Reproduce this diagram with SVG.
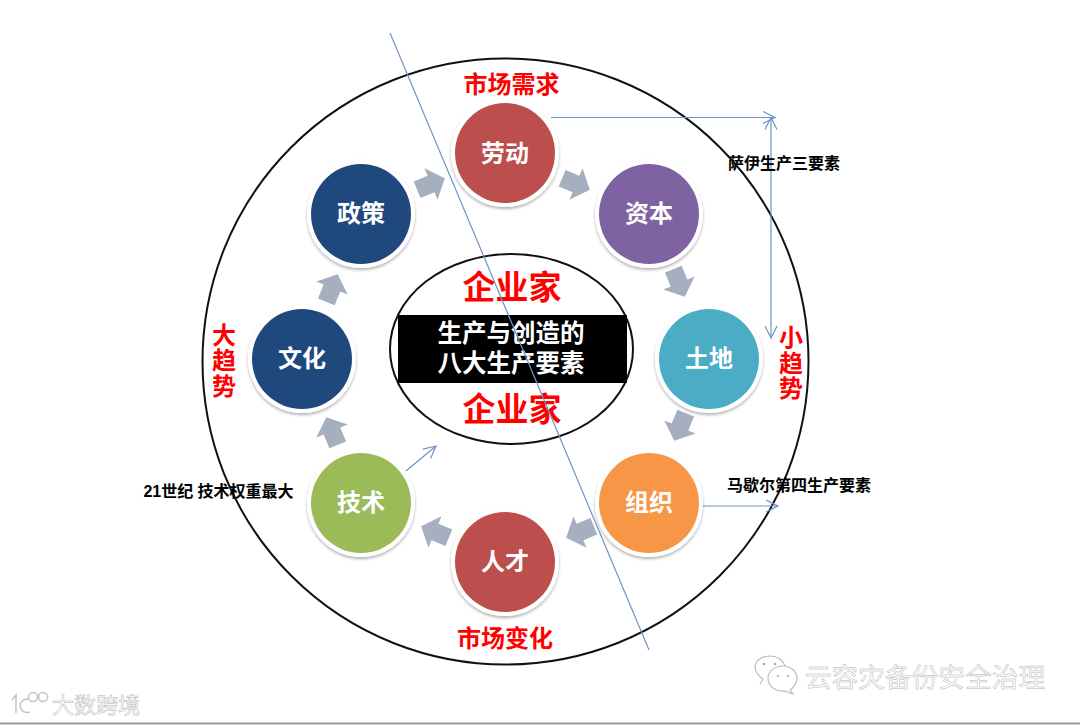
<svg xmlns="http://www.w3.org/2000/svg" width="1080" height="725" viewBox="0 0 1080 725">
<style>
text{font-family:"Liberation Sans","Noto Sans CJK SC",sans-serif;text-anchor:middle}
.ring{fill:#fff;filter:url(#sh)}
.nl{fill:#fff;font-size:24px;font-weight:700}
.red{fill:#f00;font-weight:700}
.rl{font-size:24px}
.big{font-size:33px}
.note{fill:#000;font-size:16px;font-weight:700}
.blue{fill:none;stroke:#6f94c4;stroke-width:1.2}
.ar{fill:#a6afc0}
.wm{fill:#fff;stroke:#b4b4b4;stroke-width:.5}
.ic{fill:#fff;stroke:#bbb;stroke-width:1.2}
.dot{fill:#aaa}
</style>
<defs>
<filter id="sh" x="-20%" y="-20%" width="140%" height="140%"><feDropShadow dx="0" dy="2" stdDeviation="1.5" flood-color="#000" flood-opacity=".3"/></filter>
<marker id="op" viewBox="0 0 14 14" refX="13" refY="7" markerWidth="14" markerHeight="14" markerUnits="userSpaceOnUse" orient="auto-start-reverse"><path d="M1 1L13 7L1 13" fill="none" stroke="#6f94c4" stroke-width="1.2"/></marker>
<path id="arr" d="M-15-9H0V-17L15 0L0 17V9H-15Z"/>
</defs>
<rect width="1080" height="725" fill="#fff"/>
<circle id="outer" cx="505.500" cy="361.500" r="303" fill="none" stroke="#111" stroke-width="2"/>
<g id="center">
<ellipse cx="511.500" cy="349" rx="121.500" ry="95" fill="#fff" stroke="#111" stroke-width="2"/>
<rect x="398" y="315" width="229" height="68"/>
<text x="511" y="342" fill="#fff" font-size="24.500" font-weight="700">生产与创造的</text>
<text x="511" y="372" fill="#fff" font-size="24.500" font-weight="700">八大生产要素</text>
<text class="red big" x="512" y="299">企业家</text>
<text class="red big" x="512" y="421">企业家</text>
</g>
<g id="connectors">
<path class="blue" d="M390 33L649 650"/>
<path class="blue" d="M551 117.500H775" marker-end="url(#op)"/>
<path class="blue" d="M771 117.500V338" marker-start="url(#op)" marker-end="url(#op)"/>
<path class="blue" d="M406 471L436 446" marker-end="url(#op)"/>
<path class="blue" d="M703 506H778" marker-end="url(#op)"/>
<use href="#arr" class="ar" transform="translate(576 184) rotate(22.500)"/>
<use href="#arr" class="ar" transform="translate(679 283) rotate(67.500)"/>
<use href="#arr" class="ar" transform="translate(680 427) rotate(112.500)"/>
<use href="#arr" class="ar" transform="translate(580 532) rotate(157.500)"/>
<use href="#arr" class="ar" transform="translate(435 532) rotate(202.500)"/>
<use href="#arr" class="ar" transform="translate(332 431) rotate(247.500)"/>
<use href="#arr" class="ar" transform="translate(332 288) rotate(292.500)"/>
<use href="#arr" class="ar" transform="translate(431 184) rotate(337.500)"/>
</g>
<g id="n-laodong"><circle class="ring" cx="505" cy="153" r="54"/><circle cx="505" cy="153" r="50" fill="#bc4f4d"/><text class="nl" x="505" y="162">劳动</text></g>
<g id="n-ziben"><circle class="ring" cx="649" cy="214" r="54"/><circle cx="649" cy="214" r="50" fill="#7f62a1"/><text class="nl" x="649" y="222">资本</text></g>
<g id="n-tudi"><circle class="ring" cx="709" cy="359" r="54"/><circle cx="709" cy="359" r="50" fill="#4bacc6"/><text class="nl" x="709" y="367">土地</text></g>
<g id="n-zuzhi"><circle class="ring" cx="649" cy="503" r="54"/><circle cx="649" cy="503" r="50" fill="#f79646"/><text class="nl" x="649" y="511">组织</text></g>
<g id="n-rencai"><circle class="ring" cx="505" cy="562" r="54"/><circle cx="505" cy="562" r="50" fill="#bc4f4d"/><text class="nl" x="505" y="570">人才</text></g>
<g id="n-jishu"><circle class="ring" cx="361" cy="503" r="54"/><circle cx="361" cy="503" r="50" fill="#9bbb59"/><text class="nl" x="361" y="511">技术</text></g>
<g id="n-wenhua"><circle class="ring" cx="302" cy="359" r="54"/><circle cx="302" cy="359" r="50" fill="#1f497d"/><text class="nl" x="302" y="367">文化</text></g>
<g id="n-zhengce"><circle class="ring" cx="361" cy="214" r="54"/><circle cx="361" cy="214" r="50" fill="#1f497d"/><text class="nl" x="361" y="222">政策</text></g>
<g id="labels">
<text class="red rl" x="511.500" y="93">市场需求</text>
<text class="red rl" x="505" y="647">市场变化</text>
<text class="red rl" x="224" y="344">大</text><text class="red rl" x="224" y="369">趋</text><text class="red rl" x="224" y="395">势</text>
<text class="red rl" x="791" y="346">小</text><text class="red rl" x="791" y="371.500">趋</text><text class="red rl" x="791" y="397">势</text>
<text class="note" x="784" y="169">萨伊生产三要素</text>
<text class="note" x="799" y="491">马歇尔第四生产要素</text>
<text class="note" x="218.500" y="497">21世纪 技术权重最大</text>
</g>
<g id="watermarks">
<path d="M0 723.500H1080" stroke="#999" stroke-width="2"/>
<g id="logo-mark" fill="none" stroke="#c4c4c4" stroke-width="1.500">
<path d="M12 700L16 695V713"/>
<path d="M29 699A9 9 0 0 0 20 704C20 710 24 714 30 712"/>
<circle cx="33" cy="697" r="4.500"/><circle cx="43" cy="697" r="4.500"/>
</g>
<text class="wm" x="96" y="713" font-size="22">大数跨境</text>
<g id="wechat-mark">
<path class="ic" d="M760 684L763 679C757 675 755 670 755 666C756 660 763 656 770 656C778 656 784 661 785 667"/>
<path class="ic" d="M768 678C768 671 775 666 783 666C791 666 797 672 797 678C797 684 792 689 790 690L793 694L785 691C775 692 768 686 768 678Z"/>
<circle class="dot" cx="764" cy="664" r="1.300"/><circle class="dot" cx="775" cy="664" r="1.300"/>
<circle class="dot" cx="778" cy="676" r="1.100"/><circle class="dot" cx="788" cy="676" r="1.100"/>
</g>
<text class="wm" x="925" y="687" font-size="26.700">云容灾备份安全治理</text>
</g>
</svg>
